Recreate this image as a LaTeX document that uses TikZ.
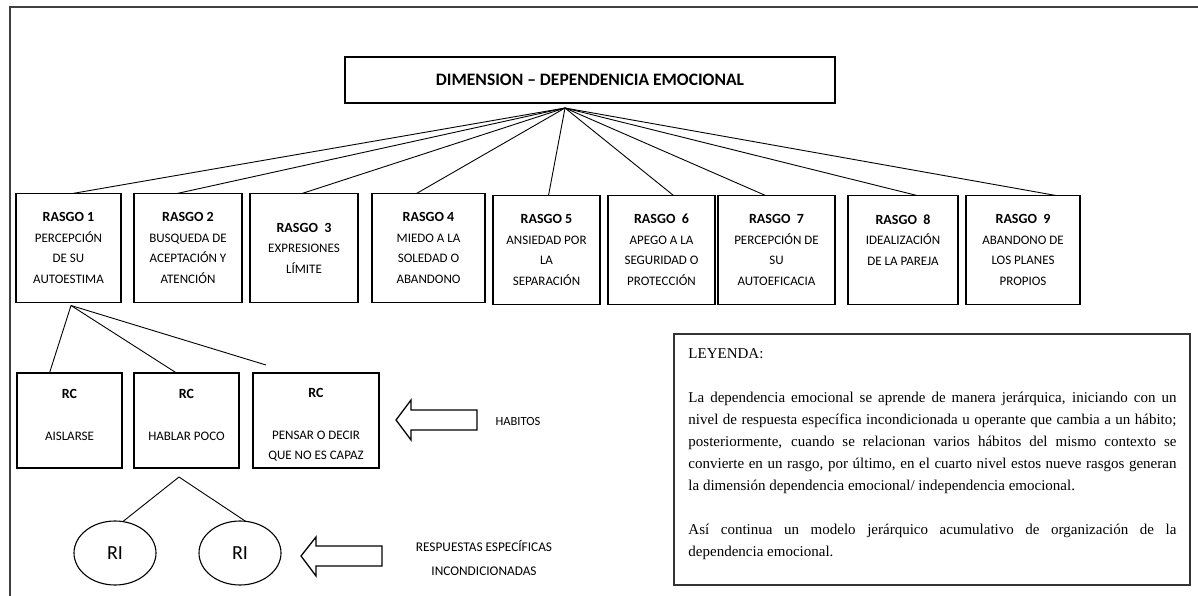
\documentclass[tikz,border=0pt]{standalone}
\usepackage{fontspec}
\setmainfont{Carlito}
\newfontfamily\leyfont{Liberation Serif}
\usetikzlibrary{positioning, shapes.geometric}

\begin{document}
\begin{tikzpicture}[
            x = 1pt, y = -1pt, % pixel units, y downwards
            node distance = 8pt, % gap between boxes
            line width = 0.9pt % line style
        ]

        \tikzstyle{every node}=[
        font = \fontsize{13}{20.5}\selectfont,
        align = center,
        inner sep = 1pt
        ]
        \tikzstyle{box}=[draw, line width=1.3pt, outer sep=0pt, minimum height=109pt]
        \tikzstyle{rc}=[draw, line width=1.3pt, outer sep=0pt, minimum height=95pt]
        \tikzstyle{ri}=[draw, ellipse, line width=1.1pt, outer sep=0pt, minimum width=82pt, minimum height=64pt, font=\fontsize{20}{22}\selectfont]
        \tikzstyle{hollow}=[draw, line width=1.3pt, line join=miter]
        \newcommand{\ttl}[1]{{\bfseries\fontsize{14}{20.5}\selectfont #1}}

        \useasboundingbox (0,0) rectangle (1198,596);
        \draw[line width=1.6pt, black!75] (10,596) -- (10,7) -- (1198,7);

        % dimension
        \node (dim) [box, minimum width=490pt, minimum height=46pt, font=\bfseries\fontsize{17.5}{19}\selectfont] at (590,80) {DIMENSION -- DEPENDENICIA EMOCIONAL};
        \coordinate (hub) at ([xshift=-25pt, yshift=-5pt]dim.south);

        % rasgos
        \node (r1) [box, minimum width=105pt] at (68.5,248) {\ttl{RASGO 1}\\PERCEPCIÓN\\DE SU\\AUTOESTIMA};
        \node (r2) [box, minimum width=108pt, right=13pt of r1] {\ttl{RASGO 2}\\BUSQUEDA DE\\ACEPTACIÓN Y\\ATENCIÓN};
        \node (r3) [box, minimum width=108pt, right=of r2] {\ttl{RASGO~~3}\\EXPRESIONES\\LÍMITE};
        \node (r4) [box, minimum width=113pt, right=14pt of r3] {\ttl{RASGO 4}\\MIEDO A LA\\SOLEDAD O\\ABANDONO};
        \node (r5) [box, minimum width=107pt, right=of r4, yshift=-2pt] {\ttl{RASGO 5}\\ANSIEDAD POR\\LA\\SEPARACIÓN};
        \node (r6) [box, minimum width=107pt, right=of r5] {\ttl{RASGO~~6}\\APEGO A LA\\SEGURIDAD O\\PROTECCIÓN};
        \node (r7) [box, minimum width=117pt, right=3pt of r6] {\ttl{RASGO~~7}\\PERCEPCIÓN DE\\SU\\AUTOEFICACIA};
        \node (r8) [box, minimum width=110pt, right=13pt of r7] {\ttl{RASGO~~8}\\IDEALIZACIÓN\\DE LA PAREJA\\\mbox{}};
        \node (r9) [box, minimum width=114pt, right=of r8] {\ttl{RASGO~~9}\\ABANDONO DE\\LOS PLANES\\PROPIOS};

        \draw (hub) -- ([xshift=4pt]r1.north);
        \draw (hub) -- ([xshift=-11pt]r2.north);
        \draw (hub) -- ([xshift=-2pt]r3.north);
        \draw (hub) -- ([xshift=-12pt]r4.north);
        \draw (hub) -- ([xshift=2pt]r5.north);
        \draw (hub) -- ([xshift=12pt]r6.north);
        \draw (hub) -- ([xshift=-11pt]r7.north);
        \draw (hub) -- ([xshift=14pt]r8.north);
        \draw (hub) -- ([xshift=33pt]r9.north);

        % habitos
        \node (rc1) [rc, minimum width=105pt] at (69.5,420.5) {\rule{0pt}{18pt}\ttl{RC}\\[21pt]AISLARSE\\\mbox{}};
        \node (rc2) [rc, minimum width=105pt, right=12pt of rc1] {\rule{0pt}{18pt}\ttl{RC}\\[21pt]HABLAR POCO\\\mbox{}};
        \node (rc3) [rc, minimum width=126pt, right=14pt of rc2] {\rule{0pt}{18pt}\ttl{RC}\\[21pt]PENSAR O DECIR\\QUE NO ES CAPAZ};

        \coordinate (split) at ([xshift=2.5pt, yshift=-3pt]r1.south);
        \coordinate (rc3top) at ([xshift=-50pt, yshift=8pt]rc3.north);
        \draw (split) -- ([xshift=-20pt]rc1.north);
        \draw (split) -- ([xshift=-10pt]rc2.north);
        \draw (split) -- (rc3top);

        % respuestas
        \node (ri1) [ri] at (115,553) {RI};
        \node (ri2) [ri, right=43pt of ri1] {RI};
        \coordinate (fork) at ([xshift=-7.5pt, yshift=-9pt]rc2.south);
        \draw (fork) -- (ri1.76);
        \draw (fork) -- (ri2.80);

        % hollow arrows
        \draw[hollow] (396,420) -- (411,400) -- (411,410) -- (477,410) -- (477,430) -- (411,430) -- (411,440) -- cycle;
        \node (hab) [font=\fontsize{12.5}{20}\selectfont] at (518,421) {HABITOS};
        \draw[hollow] (301,556) -- (316,537) -- (316,546) -- (382,546) -- (382,566) -- (316,566) -- (316,576) -- cycle;
        \node (resp) [font=\fontsize{13.3}{24}\selectfont] at (484,558) {RESPUESTAS ESPECÍFICAS\\INCONDICIONADAS};

        % leyenda
        \node (ley) [draw, line width=1.3pt, black!80, outer sep=0pt, minimum width=516pt, minimum height=251pt] at (932,459.5) {};
        \node (leytxt) [anchor=north west, text width=488pt, align=justify, inner sep=0pt, font=\leyfont\fontsize{15}{22}\selectfont] at ([xshift=14pt, yshift=-14pt]ley.north west) {\parindent=0pt\hyphenpenalty=10000\emergencystretch=20pt
        LEYENDA:\par\vspace{22pt}
        La dependencia emocional se aprende de manera jerárquica, iniciando con un\linebreak
        nivel de respuesta específica incondicionada u operante que cambia a un hábito;\linebreak
        posteriormente, cuando se relacionan varios hábitos del mismo contexto se\linebreak
        convierte en un rasgo, por último, en el cuarto nivel estos nueve rasgos generan\linebreak
        la dimensión dependencia emocional/ independencia emocional.\par\vspace{22pt}
        Así continua un modelo jerárquico acumulativo de organización de la\linebreak
        dependencia emocional.};
    \end{tikzpicture}
\end{document}
